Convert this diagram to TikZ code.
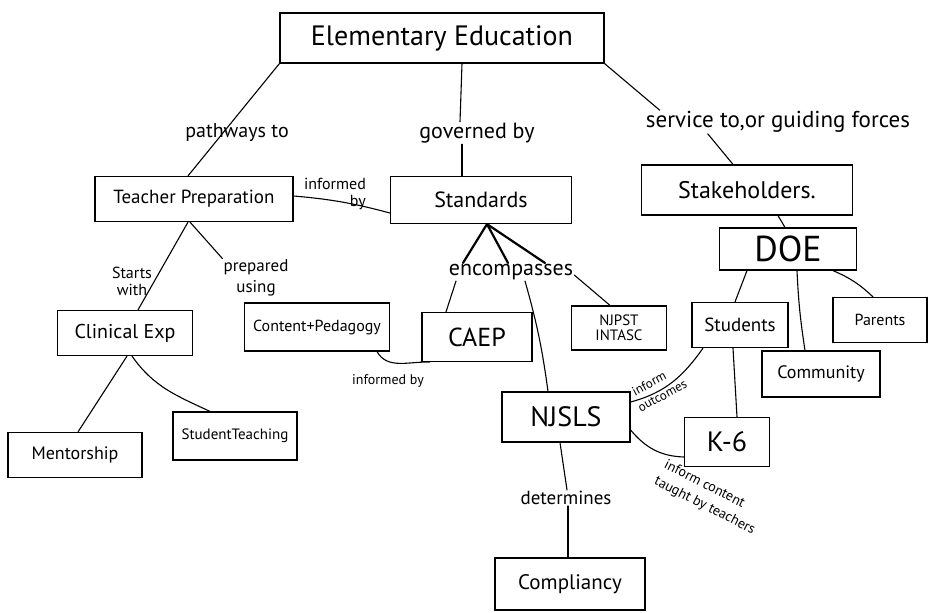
\documentclass[tikz,border=0pt]{standalone}
\usepackage{fontspec}
\setmainfont{PT Sans}
\tikzset{
  box/.style={draw, line width=1.2pt, inner sep=0pt, align=center},
  sz/.style 2 args={font=\fontsize{#1}{#2}\selectfont},
  lab/.style={inner sep=1pt, align=center},
  conn/.style={line width=1.1pt, line cap=round},
  thickconn/.style={line width=2.2pt, line cap=round}
}
\begin{document}
\begin{tikzpicture}[x=1pt,y=-1pt]
\useasboundingbox[fill=white] (0,0) rectangle (935,613);

% boxes
\node[box, minimum width=324pt, minimum height=50pt, sz={28}{30}] (ee) at (442,38) {Elementary Education};
\node[box, minimum width=198pt, minimum height=45pt, sz={19}{21}] (tp) at (194,199) {Teacher Preparation};
\node[box, minimum width=181pt, minimum height=47pt, sz={22}{24}] (std) at (481,200) {Standards};
\node[box, minimum width=211pt, minimum height=50pt, sz={24}{26}] (stk) at (747,190) {Stakeholders.};
\node[box, minimum width=137pt, minimum height=42pt, sz={36}{38}] (doe) at (788,249) {DOE};
\node[box, minimum width=135pt, minimum height=45pt, sz={20}{22}] (ce) at (125,333) {Clinical Exp};
\node[box, minimum width=145pt, minimum height=48pt, sz={16}{18}] (cp) at (317,327) {Content+Pedagogy};
\node[box, minimum width=110pt, minimum height=49pt, sz={26}{28}] (caep) at (477,337) {CAEP};
\node[box, minimum width=95pt, minimum height=44pt, sz={15}{15}] (njpst) at (619,328) {NJPST\\INTASC};
\node[box, minimum width=96pt, minimum height=45pt, sz={19}{21}] (stu) at (740,325) {Students};
\node[box, minimum width=94pt, minimum height=45pt, sz={16}{18}] (par) at (880,320) {Parents};
\node[box, minimum width=118pt, minimum height=46pt, sz={18}{20}] (com) at (821,374) {Community};
\node[box, minimum width=128pt, minimum height=50pt, sz={28}{30}] (njsls) at (566,417) {NJSLS};
\node[box, minimum width=85pt, minimum height=49pt, sz={28}{30}] (k6) at (727,442) {K-6};
\node[box, minimum width=150pt, minimum height=52pt, sz={21}{23}] (comp) at (570,584) {Compliancy};
\node[box, minimum width=134pt, minimum height=45pt, sz={18}{20}] (ment) at (75,455) {Mentorship};
\node[box, minimum width=124pt, minimum height=48pt, sz={15}{17}] (st) at (235,436) {StudentTeaching};

% labels
\node[lab, sz={20}{22}] (path) at (237,133) {pathways to};
\node[lab, sz={22}{24}] (gov) at (477,133) {governed by};
\node[lab, sz={23}{25}] (svc) at (778,122) {service to,or guiding forces};
\node[lab, sz={16}{17}, align=right] (inf1) at (335,194) {informed\\by};
\node[lab, sz={16}{17}] (sw) at (132,281) {Starts\\with};
\node[lab, sz={17}{21}] (prep) at (256,278) {prepared\\using};
\node[lab, sz={22}{24}] (enc) at (511,272) {encompasses};
\node[lab, sz={14}{16}] (inf2) at (388,381) {informed by};
\node[lab, sz={19}{21}] (det) at (566,498) {determines};
\node[lab, sz={13}{17}, rotate=28] (infout) at (653,391) {inform\\\hspace*{12pt}outcomes};
\node[lab, sz={14}{19}, rotate=-27] (infcon) at (700,493) {inform content\\\hspace*{20pt}taught by teachers};

% connectors
\draw[conn] (ee.south west) -- ([xshift=-6pt]tp.north);
\draw[conn] ([xshift=20pt]ee.south) -- ([xshift=-17pt]gov.north);
\draw[conn] ([xshift=-15pt]gov.south) -- ([xshift=-19pt]std.north);
\draw[conn] (ee.south east) -- ([xshift=15pt]svc.north west);
\draw[conn] ([xshift=63pt]svc.south west) -- ([xshift=-14pt]stk.north);
\draw[conn] ([yshift=3pt]tp.east) to[bend left=5] ([yshift=-13pt]std.west);
\draw[conn] ([xshift=-6pt]tp.south) -- ([xshift=13pt]ce.north);
\draw[conn] ([xshift=-4pt]tp.south) -- (prep.north west);
\draw[thickconn] ([xshift=6pt]std.south) -- ([xshift=-48pt]enc.north);
\draw[thickconn] ([xshift=6pt]std.south) -- ([xshift=-3pt]enc.north);
\draw[thickconn] ([xshift=6pt]std.south) -- ([xshift=34pt]enc.north);
\draw[conn] ([xshift=-55pt]enc.south) -- ([xshift=-31pt]caep.north);
\draw[conn] ([xshift=14pt]enc.south) to[bend left=4] ([xshift=-18pt]njsls.north);
\draw[conn] ([yshift=-3pt]enc.east) -- ([xshift=-9pt]njpst.north);
\draw[conn] ([xshift=60pt]cp.south) to[out=-60,in=178] ([xshift=8pt]caep.south west);
\draw[conn] ([xshift=2pt]ce.south) -- ([xshift=3pt]ment.north);
\draw[conn] ([xshift=7pt]ce.south) to[out=-55,in=155] ([xshift=-25pt]st.north);
\draw[conn] ([xshift=31pt]stk.south) -- ([xshift=-3pt]doe.north);
\draw[conn] ([xshift=-41pt]doe.south) -- ([xshift=-5pt]stu.north);
\draw[conn] ([xshift=9pt]doe.south) to[bend right=3] ([xshift=-16pt]com.north);
\draw[conn] ([xshift=45pt]doe.south) to[bend left=10] ([xshift=-7pt]par.north);
\draw[conn] ([xshift=-7pt]stu.south) -- ([xshift=10pt]k6.north);
\draw[conn] ([xshift=-37pt]stu.south) to[out=-125,in=15] ([yshift=15pt]njsls.east);
\draw[conn] ([yshift=-13pt]njsls.east) to[out=-50,in=178] ([yshift=-15pt]k6.west);
\draw[conn] ([xshift=-6pt]njsls.south) -- ([xshift=1pt]det.north);
\draw[conn] ([xshift=2pt]det.south) -- ([xshift=-2pt]comp.north);
\end{tikzpicture}
\end{document}
